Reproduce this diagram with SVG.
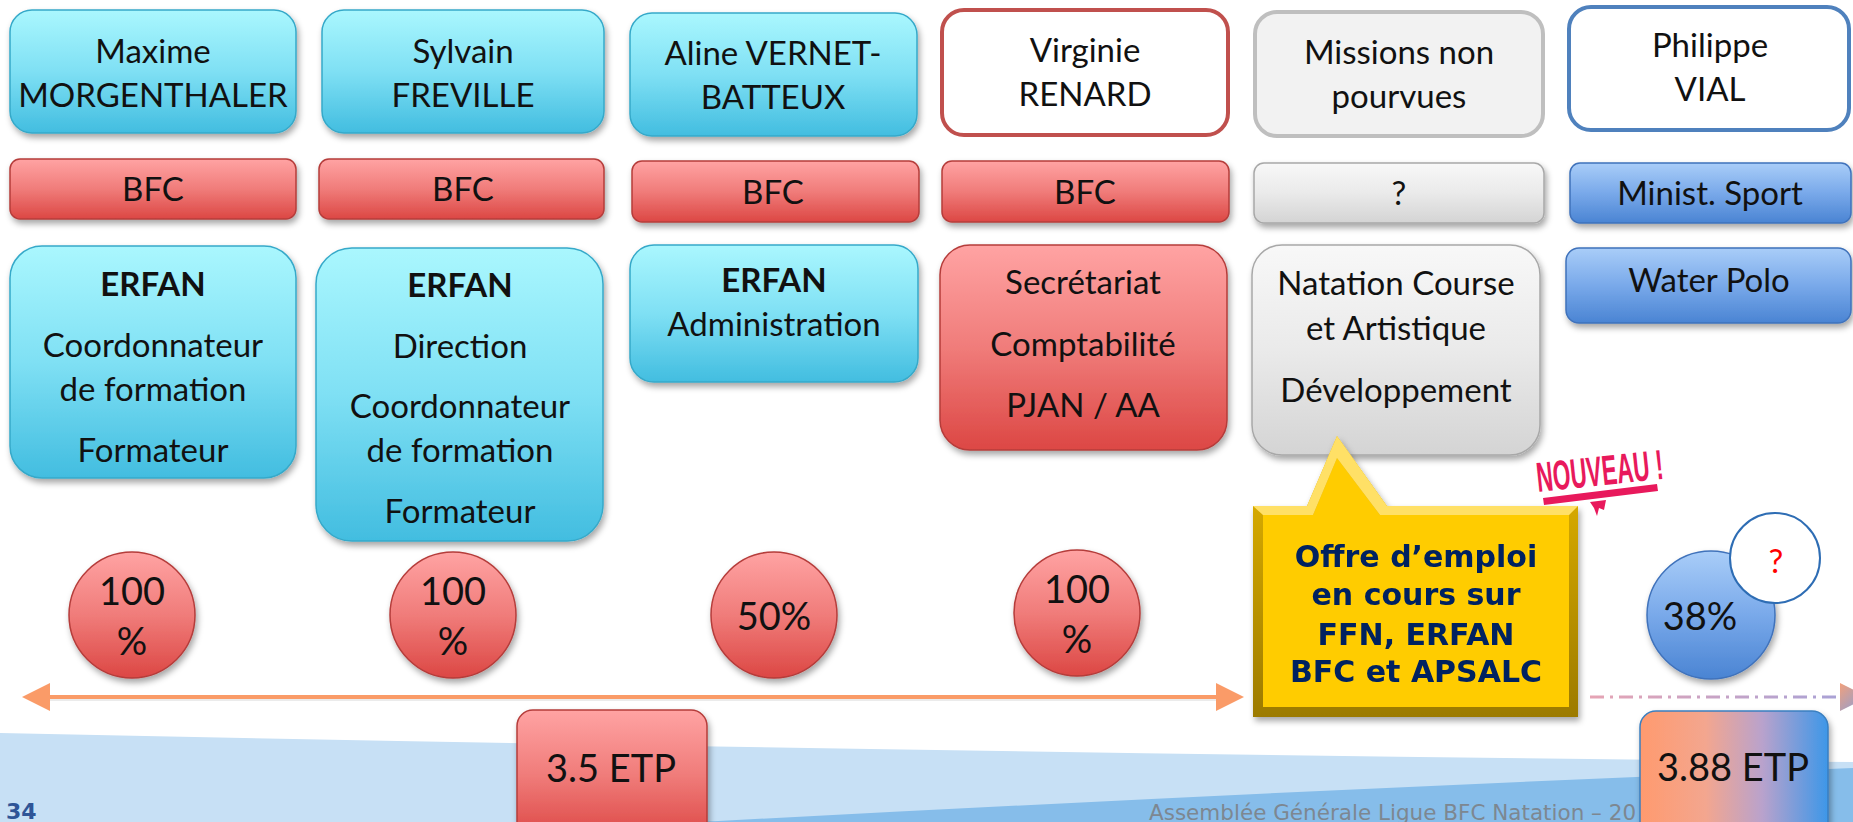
<svg xmlns="http://www.w3.org/2000/svg" width="1853" height="822" viewBox="0 0 1853 822">
<defs>
  <linearGradient id="gCyan" x1="0" y1="0" x2="0" y2="1">
    <stop offset="0" stop-color="#aaf7fe"/><stop offset="0.5" stop-color="#7fe0f4"/><stop offset="1" stop-color="#42bde0"/>
  </linearGradient>
  <linearGradient id="gRed" x1="0" y1="0" x2="0" y2="1">
    <stop offset="0" stop-color="#ffa3a3"/><stop offset="0.5" stop-color="#f07c7a"/><stop offset="1" stop-color="#dc4744"/>
  </linearGradient>
  <linearGradient id="gGray" x1="0" y1="0" x2="0" y2="1">
    <stop offset="0" stop-color="#f8f8f8"/><stop offset="0.5" stop-color="#eaeaea"/><stop offset="1" stop-color="#d4d4d4"/>
  </linearGradient>
  <linearGradient id="gBlue" x1="0" y1="0" x2="0" y2="1">
    <stop offset="0" stop-color="#a9cdf8"/><stop offset="0.5" stop-color="#79a9ea"/><stop offset="1" stop-color="#4a84d3"/>
  </linearGradient>
  <linearGradient id="gEtp" x1="0" y1="0" x2="1" y2="0">
    <stop offset="0" stop-color="#ff9a6e"/><stop offset="0.35" stop-color="#f3a68f"/><stop offset="0.65" stop-color="#b9a2cc"/><stop offset="1" stop-color="#3d97e8"/>
  </linearGradient>
  <linearGradient id="gDash" gradientUnits="userSpaceOnUse" x1="1590" y1="0" x2="1840" y2="0">
    <stop offset="0" stop-color="#e6a4b4"/><stop offset="1" stop-color="#a9a2d6"/>
  </linearGradient>
  <linearGradient id="gHead" x1="0" y1="0" x2="1" y2="1">
    <stop offset="0" stop-color="#f2a07c"/><stop offset="1" stop-color="#7f9ee0"/>
  </linearGradient>
  <linearGradient id="gYellow" x1="0" y1="0" x2="0" y2="1">
    <stop offset="0" stop-color="#e8b800"/><stop offset="1" stop-color="#9c7a00"/>
  </linearGradient>
  <filter id="shadow" x="-10%" y="-10%" width="120%" height="130%">
    <feDropShadow dx="2" dy="4" stdDeviation="3" flood-color="#000" flood-opacity="0.35"/>
  </filter>
</defs>
<style>
  .t { font-family: Lato, "Liberation Sans", sans-serif; font-size: 33px; fill: #111; text-anchor: middle; }
  .b { font-weight: bold; }
  .big { font-size: 38px; }
  .cyan { fill: url(#gCyan); stroke: #36a9c9; stroke-width: 1.5; filter: url(#shadow); }
  .red { fill: url(#gRed); stroke: #b53c3a; stroke-width: 1.5; filter: url(#shadow); }
  .gray { fill: url(#gGray); stroke: #a8a8a8; stroke-width: 1.5; filter: url(#shadow); }
  .blue { fill: url(#gBlue); stroke: #3f72bb; stroke-width: 1.5; filter: url(#shadow); }
  .offer { font-family: "DejaVu Sans", Verdana, sans-serif; font-weight: bold; font-size: 30px; fill: #002060; text-anchor: middle; }
</style>

<rect width="1853" height="822" fill="#ffffff"/>

<!-- background bands -->
<g id="background">
  <path d="M0,733 Q900,752 1853,762 L1853,822 L0,822 Z" fill="#c7e0f5"/>
  <path d="M700,822 Q1300,790 1853,768 L1853,822 Z" fill="#86bdea"/>
  <text x="6" y="819" font-family="'DejaVu Sans', Verdana, sans-serif" font-size="22" font-weight="bold" fill="#2f5597">34</text>
  <text x="1149" y="820" font-family="'DejaVu Sans', Verdana, sans-serif" font-size="21.5" fill="#7d8791">Assemblée Générale Ligue BFC Natation – 20</text>
</g>

<!-- Row 1 : names -->
<g id="n-maxime">
  <rect class="cyan" x="10" y="10" width="286" height="123" rx="22"/>
  <text class="t" x="153" y="63">Maxime</text>
  <text class="t" x="153" y="107">MORGENTHALER</text>
</g>
<g id="n-sylvain">
  <rect class="cyan" x="322" y="10" width="282" height="123" rx="22"/>
  <text class="t" x="463" y="63">Sylvain</text>
  <text class="t" x="463" y="107">FREVILLE</text>
</g>
<g id="n-aline">
  <rect class="cyan" x="630" y="13" width="287" height="123" rx="22"/>
  <text class="t" x="773" y="65">Aline VERNET-</text>
  <text class="t" x="773" y="109">BATTEUX</text>
</g>
<g id="n-virginie">
  <rect x="942" y="10" width="286" height="125" rx="22" fill="#ffffff" stroke="#c0504d" stroke-width="4"/>
  <text class="t" x="1085" y="62">Virginie</text>
  <text class="t" x="1085" y="106">RENARD</text>
</g>
<g id="n-missions">
  <rect x="1255" y="12" width="288" height="124" rx="22" fill="#f2f2f2" stroke="#bfbfbf" stroke-width="4"/>
  <text class="t" x="1399" y="64">Missions non</text>
  <text class="t" x="1399" y="108">pourvues</text>
</g>
<g id="n-philippe">
  <rect x="1569" y="7" width="280" height="123" rx="22" fill="#ffffff" stroke="#4f81bd" stroke-width="4"/>
  <text class="t" x="1710" y="57">Philippe</text>
  <text class="t" x="1710" y="101">VIAL</text>
</g>

<!-- Row 2 : employer -->
<g id="e-maxime">
  <rect class="red" x="10" y="159" width="286" height="60" rx="10"/>
  <text class="t" x="153" y="201">BFC</text>
</g>
<g id="e-sylvain">
  <rect class="red" x="319" y="159" width="285" height="60" rx="10"/>
  <text class="t" x="463" y="201">BFC</text>
</g>
<g id="e-aline">
  <rect class="red" x="632" y="161" width="287" height="61" rx="10"/>
  <text class="t" x="773" y="204">BFC</text>
</g>
<g id="e-virginie">
  <rect class="red" x="942" y="161" width="287" height="61" rx="10"/>
  <text class="t" x="1085" y="204">BFC</text>
</g>
<g id="e-missions">
  <rect class="gray" x="1254" y="163" width="290" height="60" rx="10"/>
  <text class="t" x="1399" y="205">?</text>
</g>
<g id="e-philippe">
  <rect class="blue" x="1570" y="163" width="281" height="60" rx="10"/>
  <text class="t" x="1710" y="205">Minist. Sport</text>
</g>

<!-- Row 3 : missions -->
<g id="m-maxime">
  <rect class="cyan" x="10" y="246" width="286" height="232" rx="32"/>
  <text class="t b" x="153" y="296">ERFAN</text>
  <text class="t" x="153" y="357">Coordonnateur</text>
  <text class="t" x="153" y="401">de formation</text>
  <text class="t" x="153" y="462">Formateur</text>
</g>
<g id="m-sylvain">
  <rect class="cyan" x="316" y="248" width="287" height="293" rx="36"/>
  <text class="t b" x="460" y="297">ERFAN</text>
  <text class="t" x="460" y="358">Direction</text>
  <text class="t" x="460" y="418">Coordonnateur</text>
  <text class="t" x="460" y="462">de formation</text>
  <text class="t" x="460" y="523">Formateur</text>
</g>
<g id="m-aline">
  <rect class="cyan" x="630" y="245" width="288" height="137" rx="24"/>
  <text class="t b" x="774" y="292">ERFAN</text>
  <text class="t" x="774" y="336">Administration</text>
</g>
<g id="m-virginie">
  <rect class="red" x="940" y="245" width="287" height="205" rx="30"/>
  <text class="t" x="1083" y="294">Secrétariat</text>
  <text class="t" x="1083" y="356">Comptabilité</text>
  <text class="t" x="1083" y="417">PJAN / AA</text>
</g>
<g id="m-missions">
  <rect class="gray" x="1252" y="245" width="288" height="210" rx="30"/>
  <text class="t" x="1396" y="295">Natation Course</text>
  <text class="t" x="1396" y="340">et Artistique</text>
  <text class="t" x="1396" y="402">Développement</text>
</g>
<g id="m-philippe">
  <rect class="blue" x="1566" y="248" width="285" height="75" rx="13"/>
  <text class="t" x="1709" y="292">Water Polo</text>
</g>

<!-- Row 4 : percentages -->
<g id="p-maxime">
  <circle class="red" cx="132" cy="615" r="63"/>
  <text class="t big" x="132" y="605">100</text>
  <text class="t big" x="132" y="655">%</text>
</g>
<g id="p-sylvain">
  <circle class="red" cx="453" cy="615" r="63"/>
  <text class="t big" x="453" y="605">100</text>
  <text class="t big" x="453" y="655">%</text>
</g>
<g id="p-aline">
  <circle class="red" cx="774" cy="615" r="63"/>
  <text class="t big" x="774" y="630">50%</text>
</g>
<g id="p-virginie">
  <circle class="red" cx="1077" cy="613" r="63"/>
  <text class="t big" x="1077" y="603">100</text>
  <text class="t big" x="1077" y="653">%</text>
</g>
<g id="p-philippe">
  <circle class="blue" cx="1711" cy="615" r="64"/>
  <text class="t big" x="1700" y="630">38%</text>
  <circle cx="1775" cy="558" r="45" fill="#ffffff" stroke="#2e6db4" stroke-width="2"/>
  <text class="t" x="1776" y="573" style="fill:#ff0000">?</text>
</g>

<!-- Offer callout -->
<g id="offre" filter="url(#shadow)">
  <path d="M1253,506 L1307,506 L1337,436 L1387,506 L1578,506 L1578,717 L1253,717 Z" fill="url(#gYellow)"/>
  <path d="M1263,515 L1313,515 L1337,458 L1380,515 L1569,515 L1569,707 L1263,707 Z" fill="#ffcc00"/>
  <path d="M1253,506 L1307,506 L1337,436 L1387,506 L1578,506 L1569,515 L1380,515 L1337,458 L1313,515 L1263,515 Z" fill="#ffe066"/>
  <text class="offer" x="1416" y="567">Offre d’emploi</text>
  <text class="offer" x="1416" y="605">en cours sur</text>
  <text class="offer" x="1416" y="645">FFN, ERFAN</text>
  <text class="offer" x="1416" y="682">BFC et APSALC</text>
</g>

<!-- NOUVEAU stamp -->
<g id="nouveau">
  <text transform="translate(1538,492) rotate(-6) scale(0.54,1)" font-family="'Liberation Sans', Arial, sans-serif" font-weight="bold" font-size="42" fill="#e8195c">NOUVEAU !</text>
  <path d="M1543,498 L1657,484 L1658,491 L1544,505 Z" fill="#e8195c"/>
  <path d="M1590,502 L1606,500 L1604,510 L1599,508 L1597,516 L1594,508 Z" fill="#e8195c"/>
</g>

<!-- ETP totals -->
<g id="etp-35">
  <rect class="red" x="517" y="710" width="190" height="130" rx="16"/>
  <text class="t" x="611" y="782" style="font-size:38px">3.5 ETP</text>
</g>
<g id="etp-388">
  <rect x="1640" y="711" width="188" height="130" rx="16" fill="url(#gEtp)" stroke="#3a7fc0" stroke-width="1.5" filter="url(#shadow)"/>
  <text class="t" x="1733" y="781" style="font-size:38px">3.88 ETP</text>
</g>

<!-- connectors -->
<g id="connectors">
  <path d="M45,699 L1218,699" stroke="#000000" stroke-opacity="0.08" stroke-width="4"/>
  <path d="M45,697 L1218,697" stroke="#fa9b68" stroke-width="4"/>
  <polygon points="22,697 50,683 50,711" fill="#fa9b68"/>
  <polygon points="1244,697 1216,683 1216,711" fill="#fa9b68"/>
  <path d="M1590,697 L1838,697" stroke="url(#gDash)" stroke-width="3" stroke-dasharray="14 6 3 6"/>
  <polygon points="1840,683 1868,697 1840,711" fill="url(#gHead)"/>
</g>
</svg>
